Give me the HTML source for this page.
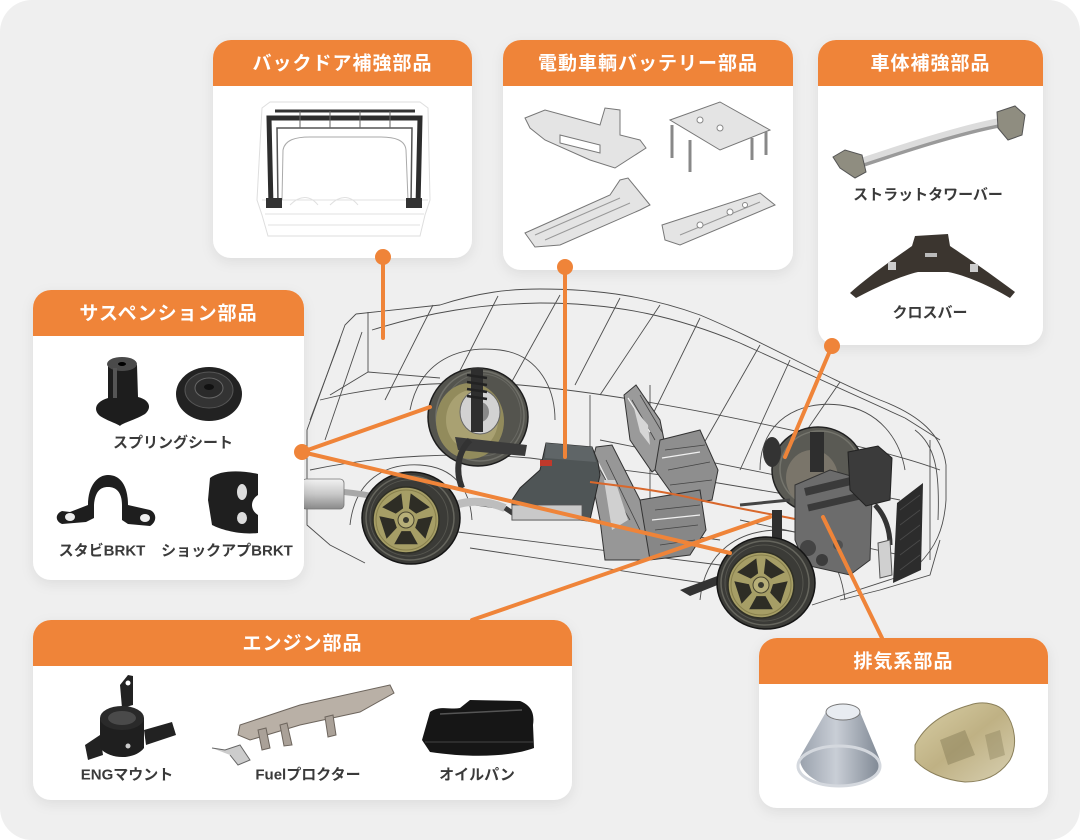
<!DOCTYPE html>
<html><head><meta charset="utf-8"><style>
html,body{margin:0;padding:0;background:#fff;width:1080px;height:840px;overflow:hidden}
svg{display:block}
.h{font-family:"Liberation Sans","Noto Sans CJK JP",sans-serif;font-weight:bold;font-size:19px;fill:#fff;letter-spacing:1px}
.l{font-family:"Liberation Sans","Noto Sans CJK JP",sans-serif;font-weight:bold;font-size:15px;fill:#3a3a3a}
</style></head><body>
<svg width="1080" height="840" viewBox="0 0 1080 840" xmlns="http://www.w3.org/2000/svg">
<defs>
<filter id="sh" x="-10%" y="-10%" width="120%" height="130%"><feDropShadow dx="0" dy="4" stdDeviation="6" flood-color="#000" flood-opacity="0.08"/></filter>
<linearGradient id="muf" x1="0" y1="0" x2="0" y2="1"><stop offset="0" stop-color="#f2f2f2"/><stop offset="0.5" stop-color="#c8c8c8"/><stop offset="1" stop-color="#8a8a8a"/></linearGradient>
<linearGradient id="cone" x1="0" y1="0" x2="1" y2="0"><stop offset="0" stop-color="#9aa2ad"/><stop offset="0.45" stop-color="#c9ced6"/><stop offset="1" stop-color="#7f8894"/></linearGradient>
<linearGradient id="shield" x1="0" y1="0" x2="1" y2="1"><stop offset="0" stop-color="#d9cfa6"/><stop offset="0.5" stop-color="#bfb184"/><stop offset="1" stop-color="#d8d0b2"/></linearGradient>
<g id="wheel">
 <ellipse rx="49" ry="46" fill="#3b3b37" stroke="#151515" stroke-width="1.5"/>
 <ellipse cx="-1" rx="44" ry="42" fill="none" stroke="#65655d" stroke-width="1.5"/>
 <ellipse cx="-2" rx="39" ry="38" fill="none" stroke="#56564f"/>
 <g transform="translate(-5,2)">
  <circle r="33" fill="#a69e66" stroke="#2f2f25" stroke-width="1.5"/>
  <circle r="30" fill="none" stroke="#877f4c"/>
  <g fill="#2e2d25">
   <polygon points="2.9,-11.6 10.2,-6.4 23.8,-12.7 4.7,-26.6"/>
   <polygon points="12,-0.8 9.2,7.7 19.4,18.8 26.7,-3.8"/>
   <polygon points="4.5,11.1 -4.5,11.1 -11.8,24.3 11.8,24.3"/>
   <polygon points="-9.2,7.7 -12,-0.8 -26.7,-3.8 -19.4,18.8"/>
   <polygon points="-10.2,-6.4 -2.9,-11.6 -4.7,-26.6 -23.8,-12.7"/>
  </g>
  <circle r="8" fill="#b7af78" stroke="#4a4630"/>
  <circle r="3" fill="#3a3a30"/>
 </g>
</g>
</defs>

<rect x="0" y="0" width="1080" height="840" rx="32" fill="#efefef"/>

<!-- CAR WIREFRAME -->
<g fill="none" stroke="#4d4d4d" stroke-width="0.9">
 <path d="M356,314 L440,305 C480,292 510,289 540,289 C600,289 650,297 700,315 C760,340 820,375 880,400 C920,415 942,435 946,465 L946,500 C944,530 935,548 918,565 L895,578"/>
 <path d="M356,314 L345,325 L307,430 L307,525 L330,545 L365,563"/>
 <path d="M372,330 C430,312 480,304 540,303 C620,303 680,318 740,343 C800,370 860,398 905,418"/>
 <path d="M320,400 C380,385 450,380 520,385 C600,392 700,410 800,432 C850,445 900,455 940,470"/>
 <path d="M310,470 C380,455 460,452 530,458 L700,480 L790,495"/>
 <path d="M440,500 L720,540"/>
 <path d="M458,532 L720,565"/>
 <path d="M470,548 L716,585"/>
 <path d="M812,605 L895,578"/>
 <path d="M368,312 L368,372 L330,395"/>
 <path d="M368,372 L440,378"/>
 <path d="M433,305 L385,400"/>
 <path d="M498,296 L440,410"/>
 <path d="M560,295 L510,385"/>
 <path d="M620,298 L575,385"/>
 <path d="M660,305 L600,395"/>
 <path d="M700,318 L650,420"/>
 <path d="M760,345 L700,450"/>
 <path d="M790,360 L740,470"/>
 <path d="M840,382 L800,440"/>
 <path d="M340,340 L310,420"/>
 <path d="M362,332 L325,440"/>
 <path d="M650,385 L650,555"/>
 <path d="M590,395 L590,470"/>
 <path d="M760,470 C760,420 800,400 840,405 C880,410 900,440 905,470"/>
 <path d="M700,600 C705,550 740,530 780,530 C820,532 840,560 845,600"/>
 <path d="M410,410 C420,360 460,345 500,350 C540,355 555,390 555,420"/>
 <path d="M350,525 C355,480 385,463 420,465 C455,467 470,490 472,520"/>
 <path d="M905,418 L940,440"/>
 <path d="M880,590 L930,575 L940,540"/>
 <path d="M840,600 L880,590"/>
 <path d="M930,440 L930,560"/>
 <path d="M740,520 L900,555"/>
 <path d="M600,440 L900,500"/>
 <path d="M915,430 C935,445 940,470 938,520"/>
</g>

<!-- muffler -->
<path d="M344,492 C365,494 385,498 410,505" stroke="#a8a8a8" stroke-width="6" fill="none"/>
<rect x="302" y="479" width="42" height="30" rx="4" fill="url(#muf)" stroke="#777" stroke-width="0.8"/>

<!-- rear far wheel -->
<ellipse cx="478" cy="417" rx="50" ry="49" fill="#54544e" stroke="#1e1e1e" stroke-width="1.5"/>
<ellipse cx="480" cy="416" rx="44" ry="45" fill="none" stroke="#707069" stroke-width="1.5"/>
<ellipse cx="482" cy="415" rx="39" ry="41" fill="none" stroke="#686862"/>
<ellipse cx="470" cy="421" rx="34" ry="38" fill="#928b5c"/>
<ellipse cx="472" cy="420" rx="26" ry="30" fill="#a9a172"/>
<ellipse cx="480" cy="412" rx="20" ry="22" fill="#d2d2d2" stroke="#666"/>
<ellipse cx="480" cy="412" rx="9" ry="10" fill="#888"/>
<rect x="471" y="368" width="12" height="64" fill="#2e2e2e"/>
<g stroke="#222" stroke-width="2.5" fill="none">
 <path d="M467,375 L487,378 M467,382 L487,385 M467,389 L487,392 M467,396 L487,399"/>
</g>
<path d="M455,437 L527,445 L525,456 L458,450 Z" fill="#3b3b3b"/>
<path d="M470,440 C458,452 455,470 462,488" stroke="#333" stroke-width="6" fill="none"/>

<!-- rear near suspension -->
<rect x="424" y="485" width="14" height="48" fill="#333"/>
<g stroke="#111" stroke-width="2"><path d="M422,490 L440,494 M422,498 L440,502 M422,506 L440,510 M422,514 L440,518"/></g>
<path d="M440,515 C455,500 480,498 505,508" stroke="#bdbdbd" stroke-width="8" fill="none"/>
<path d="M505,508 L520,518" stroke="#3a3a3a" stroke-width="5"/>

<use href="#wheel" transform="translate(411,518)"/>

<!-- seats -->
<g stroke="#333" stroke-width="1">
 <polygon points="624,395 636,385 660,420 668,460 652,472 630,440" fill="#9a9a9a"/>
 <polygon points="660,440 700,430 718,470 712,500 680,505 655,470" fill="#8e8e8e"/>
 <polygon points="596,447 612,445 640,500 655,530 650,560 605,560 600,520 590,470" fill="#979797"/>
 <polygon points="640,500 700,490 706,530 690,555 650,560" fill="#878787"/>
</g>
<g stroke="#444" stroke-width="0.8" fill="none">
 <path d="M632,400 L655,440 M640,395 L662,432 M665,450 L705,445 M668,470 L710,462 M600,470 L630,520 M606,460 L640,530 M655,510 L700,505 M655,530 L698,525 M670,485 L712,480 M660,545 L695,540"/>
</g>
<g stroke="#f0f0f0" stroke-width="1.2" fill="none">
 <path d="M628,398 L650,432 M662,458 L700,452 M598,462 L622,510 M652,520 L700,515"/>
</g>
<polygon points="634,408 648,425 650,445 640,432" fill="#d6d6d6"/>
<polygon points="604,480 615,480 628,520 612,530" fill="#d0d0d0"/>

<!-- battery -->
<polygon points="546,443 592,447 598,462 600,475 590,520 512,520 512,500 520,488 540,470" fill="#4f5556" stroke="#2a2a2a"/>
<polygon points="546,443 592,447 596,462 545,458" fill="#5f6567"/>
<rect x="540" y="460" width="12" height="6" fill="#c0392b"/>
<rect x="512" y="505" width="70" height="15" fill="#c9c9c9" stroke="#555" stroke-width="0.8"/>

<path d="M590,482 C620,486 660,490 700,500 C730,507 760,512 800,520" stroke="#d9682c" stroke-width="2" fill="none"/>

<!-- front far wheel -->
<ellipse cx="818" cy="470" rx="46" ry="43" fill="#5a5a54" stroke="#222" stroke-width="1.5"/>
<ellipse cx="820" cy="469" rx="40" ry="38" fill="none" stroke="#74746c" stroke-width="1.5"/>
<ellipse cx="812" cy="478" rx="26" ry="28" fill="#7a756a"/>

<!-- engine -->
<ellipse cx="772" cy="452" rx="9" ry="15" fill="#333"/>
<path d="M740,505 L790,500" stroke="#444" stroke-width="3"/>
<polygon points="795,485 830,470 858,478 872,498 870,560 850,575 805,565 795,540" fill="#6c6c6c" stroke="#333"/>
<path d="M805,492 L855,480" stroke="#3a3a3a" stroke-width="8"/>
<path d="M808,508 L860,496" stroke="#3a3a3a" stroke-width="7"/>
<rect x="810" y="432" width="14" height="40" fill="#2e2e2e"/>
<polygon points="848,452 878,446 892,458 890,500 866,506 850,490" fill="#3b3b3b" stroke="#222"/>
<circle cx="808" cy="548" r="8" fill="#444"/>
<circle cx="822" cy="560" r="6" fill="#3c3c3c"/>
<circle cx="838" cy="545" r="5" fill="#505050"/>
<path d="M875,505 C885,515 890,530 890,545" stroke="#333" stroke-width="5" fill="none"/>
<polygon points="897,503 923,483 921,570 893,583" fill="#2c2c2c"/>
<g stroke="#4a4a4a" stroke-width="0.8"><path d="M900,510 L920,495 M900,525 L920,510 M900,540 L920,525 M900,555 L920,540 M900,570 L920,555"/></g>
<polygon points="878,543 890,540 892,575 880,578" fill="#d0d0d0" stroke="#555"/>
<rect x="772" y="510" width="10" height="34" fill="#2f2f2f"/>
<path d="M680,590 L720,575 L730,580 L690,596 Z" fill="#333"/>

<use href="#wheel" transform="translate(766,583)"/>

<!-- CARDS -->
<g filter="url(#sh)" fill="#fff">
 <rect x="213" y="40" width="259" height="218" rx="18"/>
 <rect x="503" y="40" width="290" height="230" rx="18"/>
 <rect x="818" y="40" width="225" height="305" rx="18"/>
 <rect x="33" y="290" width="271" height="290" rx="18"/>
 <rect x="33" y="620" width="539" height="180" rx="18"/>
 <rect x="759" y="638" width="289" height="170" rx="18"/>
</g>
<g fill="#ef8439">
 <path d="M213,86 L213,58 A18,18 0 0 1 231,40 L454,40 A18,18 0 0 1 472,58 L472,86 Z"/>
 <path d="M503,86 L503,58 A18,18 0 0 1 521,40 L775,40 A18,18 0 0 1 793,58 L793,86 Z"/>
 <path d="M818,86 L818,58 A18,18 0 0 1 836,40 L1025,40 A18,18 0 0 1 1043,58 L1043,86 Z"/>
 <path d="M33,336 L33,308 A18,18 0 0 1 51,290 L286,290 A18,18 0 0 1 304,308 L304,336 Z"/>
 <path d="M33,666 L33,638 A18,18 0 0 1 51,620 L554,620 A18,18 0 0 1 572,638 L572,666 Z"/>
 <path d="M759,684 L759,656 A18,18 0 0 1 777,638 L1030,638 A18,18 0 0 1 1048,656 L1048,684 Z"/>
</g>
<g text-anchor="middle" dominant-baseline="central">
 <text class="h" x="342.5" y="64">バックドア補強部品</text>
 <text class="h" x="648" y="64">電動車輌バッテリー部品</text>
 <text class="h" x="930.5" y="64">車体補強部品</text>
 <text class="h" x="168.5" y="314">サスペンション部品</text>
 <text class="h" x="302.5" y="644">エンジン部品</text>
 <text class="h" x="903.5" y="662">排気系部品</text>
</g>

<!-- backdoor frame -->
<g fill="none">
 <path d="M262,108 L270,102 L420,102 L428,108 L430,200 L425,215 L420,236 L268,236 L262,215 L257,200 Z" stroke="#dedede"/>
 <path d="M262,200 L428,200 M265,214 L424,214 M268,225 L420,225" stroke="#e2e2e2"/>
 <path d="M290,205 C300,195 310,195 318,205 M330,205 C340,195 350,195 358,205" stroke="#e0e0e0"/>
 <path d="M282,200 L283,150 C285,140 295,137 310,137 L380,137 C395,137 405,140 406,150 L408,200" stroke="#aaa"/>
 <path d="M271,206 L269,118 L420,118 L418,206" stroke="#2d2d2d" stroke-width="5"/>
 <path d="M278,205 L277,128 L412,128 L411,205" stroke="#555" stroke-width="1.5"/>
 <path d="M275,111 L415,111" stroke="#333" stroke-width="3"/>
 <path d="M300,111 L300,128 M330,111 L330,128 M360,111 L360,128 M390,111 L390,128" stroke="#666" stroke-width="1"/>
</g>
<rect x="266" y="198" width="16" height="10" fill="#333"/>
<rect x="406" y="198" width="16" height="10" fill="#333"/>

<!-- battery parts -->
<g stroke="#777" stroke-width="1" fill="#e4e4e4">
 <polygon points="525,118 545,110 600,125 605,108 620,110 620,135 640,140 646,148 615,168 590,160 545,140 530,128"/>
 <polygon points="560,135 600,145 600,153 560,143" fill="#fff"/>
 <polygon points="670,120 720,102 770,130 720,150"/>
 <polygon points="525,233 610,195 620,180 628,178 650,205 640,210 560,245 535,247"/>
 <polygon points="662,225 760,193 775,205 680,245 665,240"/>
</g>
<g stroke="#888" stroke-width="3"><path d="M672,125 L672,158 M690,140 L690,172 M752,138 L752,160 M766,132 L766,155"/></g>
<g stroke="#999" stroke-width="1" fill="none"><path d="M535,235 L620,198 M545,240 L630,203 M680,235 L760,202"/></g>
<g fill="#fff" stroke="#888"><circle cx="700" cy="120" r="3"/><circle cx="720" cy="128" r="3"/><circle cx="700" cy="225" r="3"/><circle cx="730" cy="212" r="3"/><circle cx="745" cy="205" r="2.5"/></g>

<!-- strut bar -->
<path d="M855,165 C900,150 960,130 1005,122" stroke="#9a9a9a" stroke-width="9" fill="none" stroke-linecap="round"/>
<path d="M855,163 C900,148 960,128 1005,120" stroke="#dcdcdc" stroke-width="6" fill="none" stroke-linecap="round"/>
<polygon points="833,157 845,150 862,155 866,172 855,178 840,168" fill="#8f8d80" stroke="#555"/>
<polygon points="997,112 1015,106 1025,115 1022,135 1008,140 998,128" fill="#8f8d80" stroke="#555"/>
<text class="l" x="928" y="195" text-anchor="middle" dominant-baseline="central">ストラットタワーバー</text>
<path d="M850,293 C870,275 895,258 912,246 L915,236 L948,234 L950,246 C968,258 995,277 1015,292 L1010,298 C990,286 965,275 948,272 L918,272 C900,276 875,288 856,298 Z" fill="#3b352f"/>
<rect x="888" y="262" width="8" height="8" fill="#ccc"/>
<rect x="970" y="264" width="8" height="8" fill="#ccc"/>
<rect x="925" y="253" width="12" height="4" fill="#bbb"/>
<text class="l" x="930" y="313" text-anchor="middle" dominant-baseline="central">クロスバー</text>

<!-- suspension parts -->
<path d="M108,365 L108,398 C95,402 93,410 100,416 C110,422 118,424 120,426 C122,423 135,420 145,414 C152,408 150,400 138,397 L137,365 Z" fill="#1d1d1d"/>
<ellipse cx="122" cy="364" rx="15" ry="7" fill="#4a4a4a"/>
<ellipse cx="122" cy="364" rx="4" ry="2" fill="#000"/>
<rect x="113" y="368" width="4" height="30" fill="#555"/>
<ellipse cx="209" cy="394" rx="33" ry="27" fill="#222"/>
<ellipse cx="209" cy="390" rx="24" ry="18" fill="#333" stroke="#555"/>
<ellipse cx="209" cy="388" rx="14" ry="10" fill="#2a2a2a" stroke="#666"/>
<ellipse cx="209" cy="387" rx="5" ry="3" fill="#111"/>
<text class="l" x="173" y="443" text-anchor="middle" dominant-baseline="central">スプリングシート</text>
<path d="M70,512 L88,505 C88,485 98,475 108,475 C120,475 128,485 128,505 L150,510 C157,513 157,522 150,526 L128,524 L122,520 L122,505 C122,492 116,487 108,487 C100,487 95,492 94,505 L94,518 L86,522 L62,524 C55,521 55,514 62,511 Z" fill="#1e1e1e"/>
<ellipse cx="70" cy="517" rx="5" ry="4" fill="#eee"/>
<ellipse cx="145" cy="518" rx="5" ry="4" fill="#eee"/>
<path d="M210,478 C220,470 240,470 258,474 L258,495 C250,500 250,510 258,515 L258,533 C240,535 222,530 212,525 L208,500 Z" fill="#1f1f1f"/>
<ellipse cx="242" cy="492" rx="5" ry="8" fill="#ddd"/>
<ellipse cx="242" cy="518" rx="5" ry="6" fill="#ddd"/>
<text class="l" x="102" y="551" text-anchor="middle" dominant-baseline="central">スタビBRKT</text>
<text class="l" x="227" y="551" text-anchor="middle" dominant-baseline="central">ショックアプBRKT</text>

<!-- engine parts -->
<polygon points="120,685 128,675 133,676 133,705 122,708" fill="#222"/>
<circle cx="128" cy="683" r="2.5" fill="#fff"/>
<polygon points="85,745 100,735 103,755 88,760" fill="#222"/>
<polygon points="144,730 172,722 176,735 146,745" fill="#222"/>
<path d="M100,718 L100,748 C110,760 135,760 144,748 L144,718 Z" fill="#1f1f1f"/>
<ellipse cx="122" cy="718" rx="22" ry="12" fill="#2a2a2a"/>
<ellipse cx="122" cy="718" rx="14" ry="7" fill="#4a4a4a"/>
<circle cx="128" cy="746" r="2.5" fill="#ccc"/>
<text class="l" x="127" y="775" text-anchor="middle" dominant-baseline="central">ENGマウント</text>
<polygon points="240,725 300,705 390,685 394,693 360,712 300,725 250,740 238,735" fill="#b9b0a6" stroke="#6d655d"/>
<g fill="#aaa198" stroke="#6d655d"><polygon points="258,730 266,728 270,748 262,750"/><polygon points="280,725 287,723 292,745 284,746"/><polygon points="325,717 333,715 336,735 328,737"/></g>
<path d="M212,748 L225,750 L240,745 L250,760 L238,765 L230,755" stroke="#666" fill="#ccc"/>
<text class="l" x="308" y="775" text-anchor="middle" dominant-baseline="central">Fuelプロクター</text>
<path d="M422,740 L430,712 C440,705 450,710 460,708 L470,700 L520,701 C530,705 535,712 533,725 L534,748 C510,757 470,758 430,752 Z" fill="#161616"/>
<path d="M440,714 L522,710" stroke="#555" stroke-width="1.5"/>
<path d="M425,742 L533,742" stroke="#444" stroke-width="1"/>
<text class="l" x="477" y="775" text-anchor="middle" dominant-baseline="central">オイルパン</text>

<!-- exhaust parts -->
<path d="M826,712 L800,757 C798,772 820,787 840,787 C862,787 882,775 880,760 L860,712 Z" fill="url(#cone)"/>
<ellipse cx="839" cy="766" rx="41" ry="20" fill="none" stroke="#d4d8de" stroke-width="3"/>
<ellipse cx="843" cy="712" rx="17" ry="8" fill="#e8ecf1" stroke="#777"/>
<path d="M915,745 C925,725 945,712 970,705 C985,700 1000,705 1005,712 C1015,725 1018,745 1010,760 C1000,775 985,782 965,782 C945,780 925,772 915,760 Z" fill="url(#shield)" stroke="#8a7f5a"/>
<polygon points="940,740 965,730 975,755 948,765" fill="#8a7f5a" opacity="0.5"/>
<polygon points="985,735 1000,730 1005,755 990,760" fill="#8a7f5a" opacity="0.4"/>

<!-- connectors -->
<g stroke="#ef8439" stroke-width="4" fill="none" stroke-linecap="round">
 <path d="M383,257 L383,338"/>
 <path d="M565,267 L565,457"/>
 <path d="M832,346 L785,457"/>
 <path d="M302,452 L430,407"/>
 <path d="M302,452 L730,553"/>
 <path d="M472,620 L770,517"/>
 <path d="M882,638 L823,517"/>
</g>
<g fill="#ef8439">
 <circle cx="383" cy="257" r="8"/>
 <circle cx="565" cy="267" r="8"/>
 <circle cx="832" cy="346" r="8"/>
 <circle cx="302" cy="452" r="8"/>
</g>
</svg>
</body></html>
